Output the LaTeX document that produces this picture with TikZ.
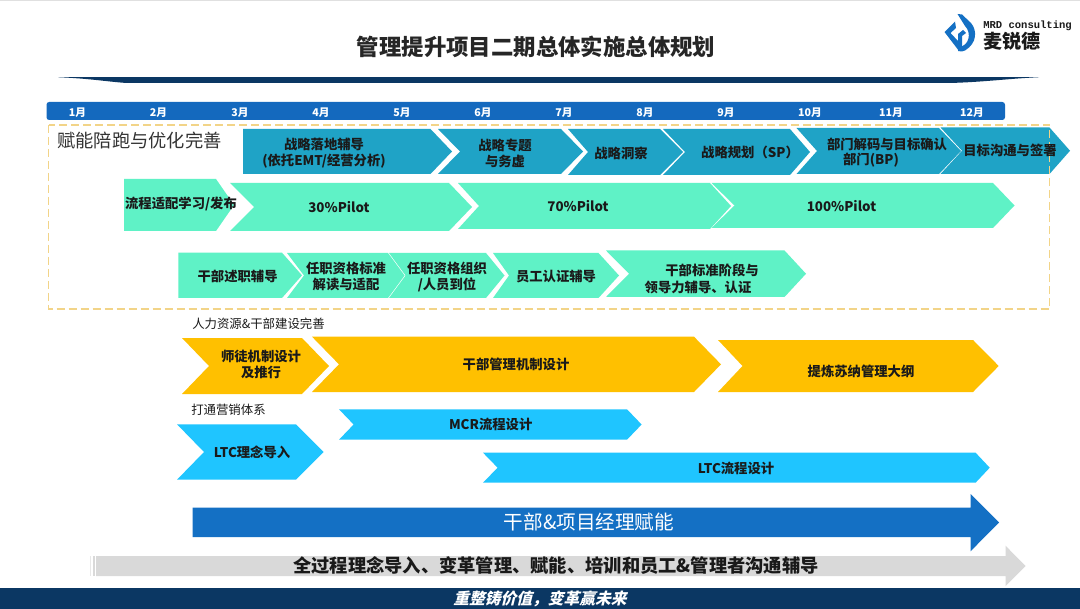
\documentclass[tikz,border=0pt]{standalone}
\usepackage{fontspec}
\setmainfont{Noto Sans CJK SC}
\newfontfamily\slantcjk[FakeSlant=0.25,BoldFeatures={FakeSlant=0.25}]{Noto Sans CJK SC}
\newfontfamily\logomono{Liberation Mono}
\definecolor{navy}{HTML}{0B3763}
\definecolor{barblue}{HTML}{1469BE}
\definecolor{teal}{HTML}{1FA3C6}
\definecolor{mint}{HTML}{5FF2C6}
\definecolor{amber}{HTML}{FFC000}
\definecolor{sky}{HTML}{1FC5FF}
\definecolor{bigblue}{HTML}{1470C4}
\definecolor{lightgrey}{HTML}{D9D9D9}
\definecolor{dashgold}{HTML}{F2D488}
\definecolor{ink}{HTML}{1A1A1A}
\tikzset{
  lbl/.style={font=\fontsize{10pt}{12pt}\selectfont\bfseries,text=ink,inner sep=0pt,align=center},
  month/.style={font=\fontsize{8pt}{9pt}\selectfont\bfseries,text=white,inner sep=0pt},
  note/.style={font=\fontsize{9.3pt}{11pt}\selectfont,text=ink,inner sep=0pt,anchor=west},
}
% colour, left x, notch x, shoulder x, tip x, top y, bottom y
\newcommand{\chevshape}[7]{%
  \pgfmathsetmacro{\chevmid}{(#6+#7)/2}%
  \fill[#1] (#2,#6) -- (#4,#6) -- (#5,\chevmid) -- (#4,#7) -- (#2,#7) -- (#3,\chevmid) -- cycle;}
\begin{document}
\begin{tikzpicture}[x=0.75pt,y=-0.75pt]
\useasboundingbox (0,0) rectangle (1080,609);
\fill[white] (0,0) rectangle (1080,609);
\fill[black!12] (0,0) rectangle (1080,1.2);

% title and swoosh
\node[lbl,font=\fontsize{16.8pt}{20pt}\selectfont\bfseries,text=black!85] (title) at (536,47) {管理提升项目二期总体实施总体规划};
\fill[navy] (58,77.2) .. controls (90,78.5) and (110,82) .. (127,83) -- (950,83) .. controls (985,82) and (1010,78.5) .. (1039,77.2) -- cycle;

% logo
\fill[bigblue] (957.5,14) -- (962,14.5) -- (971,23) .. controls (977,30) and (977.5,43) .. (965,50.5) .. controls (963,51.5) and (961,52) .. (958,51) -- (959,47) .. controls (969,46) and (972,33) .. (965,26) -- cycle;
\fill[bigblue] (944.5,32) -- (955,21.5) -- (956,28) -- (950.5,33) -- (958,41) -- (958,34) -- (963,30) -- (966,33) -- (962,36) -- (962,50) -- (959,51) -- cycle;
\node[inner sep=0pt,anchor=west,font=\fontsize{7.9pt}{9pt}\logomono\bfseries,text=ink] (logoen) at (983,26.3) {MRD consulting};
\node[inner sep=0pt,anchor=west,font=\fontsize{14.3pt}{16pt}\selectfont\bfseries,text=ink] (logocn) at (983.5,41.5) {麦锐德};

% months
\fill[barblue,rounded corners=2pt] (46.5,102) rectangle (1005,120);
\foreach \mx/\mt/\mn in {77.5/1月/ma,158.5/2月/mb,240/3月/mc,321/4月/md,402/5月/me,483/6月/mf,564/7月/mg,645/8月/mh,726/9月/mi,810/10月/mj,891/11月/mk,972/12月/ml}
  \node[month] (\mn) at (\mx,112.5) {\mt};

% row 1
\chevshape{teal}{243}{243}{430.5}{452}{129}{174}
\chevshape{teal}{438}{460}{561}{583}{129}{174}
\chevshape{teal}{568}{588}{660}{683}{129}{175}
\chevshape{teal}{663}{685}{790}{810}{129}{175}
\chevshape{teal}{796.5}{817}{939}{961}{128}{174}
\chevshape{teal}{940.5}{962}{1049.5}{1070}{127.5}{174}
% row 2
\chevshape{mint}{124}{124}{216}{234}{179}{231}
\chevshape{mint}{230}{254}{449}{472}{183}{231}
\chevshape{mint}{458}{479}{710}{731}{183}{229}
\chevshape{mint}{711.5}{734.5}{993}{1014.5}{183}{228}
% row 3
\chevshape{mint}{178.4}{178.4}{282}{302}{252.7}{298}
\chevshape{mint}{287}{304}{388}{404.6}{253}{298}
\chevshape{mint}{389}{405.6}{486}{504.5}{253}{298}
\chevshape{mint}{493}{509}{598.5}{619}{253}{298}
\chevshape{mint}{606}{629}{784.5}{806}{250.5}{297}

% dashed frame
\draw[dashgold,line width=0.9pt,dash pattern=on 6pt off 3pt] (48.5,125) rectangle (1049.6,309);
\node[note,font=\fontsize{13.7pt}{16pt}\selectfont,text=black!80] (head1) at (57,140.5) {赋能陪跑与优化完善};

% row 1 text
\node[lbl] (t1) at (324,153.5) {战略落地辅导\\(依托EMT/经营分析)};
\node[lbl] (t2) at (505,153) {战略专题\\与务虚};
\node[lbl] (t3) at (621,153) {战略洞察};
\node[lbl] (t4) at (750,152) {战略规划（SP）};
\node[lbl] (t5a) at (887,144) {部门解码与目标确认};
\node[lbl] (t5b) at (871,160.5) {部门(BP)};
\node[lbl] (t6) at (1010,150) {目标沟通与签署};
% row 2 text
\node[lbl] (p0) at (181,204) {流程适配学习/发布};
\node[lbl] (p1) at (339,207.5) {30\%Pilot};
\node[lbl] (p2) at (578,206.5) {70\%Pilot};
\node[lbl] (p3) at (841.5,206) {100\%Pilot};
% row 3 text
\node[lbl] (r1) at (237.6,276) {干部述职辅导};
\node[lbl] (r2) at (346,276.5) {任职资格标准\\解读与适配};
\node[lbl] (r3) at (447,276.5) {任职资格组织\\/人员到位};
\node[lbl] (r4) at (556,276) {员工认证辅导};
\node[lbl] (r5a) at (712,270.5) {干部标准阶段与};
\node[lbl] (r5b) at (698,287) {领导力辅导、认证};

% HR
\node[note] (head2) at (192,323.5) {人力资源\&干部建设完善};
\chevshape{amber}{182}{209}{302}{329}{338}{394}
\chevshape{amber}{312}{339}{694}{721}{336.7}{392}
\chevshape{amber}{718}{742.5}{973}{998.7}{340}{392}
\node[lbl] (h1) at (261,364.5) {师徒机制设计\\及推行};
\node[lbl] (h2) at (516,364) {干部管理机制设计};
\node[lbl] (h3) at (861,371) {提炼苏纳管理大纲};

% marketing
\node[note] (head3) at (191,410) {打通营销体系};
\chevshape{sky}{177}{204}{296}{323.7}{424.3}{479.7}
\chevshape{sky}{339}{353.6}{627}{641.6}{409.3}{439.7}
\chevshape{sky}{483}{497.6}{975.6}{989.7}{452.7}{482.7}
\node[lbl] (s1) at (252,452) {LTC理念导入};
\node[lbl] (s2) at (490.7,424) {MCR流程设计};
\node[lbl] (s3) at (736,468) {LTC流程设计};

% big blue arrow
\fill[bigblue] (192.5,507.7) -- (970.5,507.7) -- (970.5,494) -- (999,522.5) -- (970.5,551.3) -- (970.5,537) -- (192.5,537) -- cycle;
\node[inner sep=0pt,font=\fontsize{14.7pt}{18pt}\selectfont,text=white] (big) at (589,522) {干部\&项目经理赋能};

% grey arrow
\fill[lightgrey] (96,556) -- (1005.5,556) -- (1005.5,545.7) -- (1025.5,566) -- (1005.5,586) -- (1005.5,576) -- (96,576) -- cycle;
\fill[lightgrey] (92.7,556) rectangle (95,576);
\fill[lightgrey!60] (89.5,556) rectangle (91,576);
\node[lbl,font=\fontsize{13.7pt}{16pt}\selectfont\bfseries,text=black!90] (grey) at (556,566) {全过程理念导入、变革管理、赋能、培训和员工\&管理者沟通辅导};

% footer
\fill[navy] (0,588.3) rectangle (1080,609);
\node[inner sep=0pt,font=\fontsize{11.8pt}{14pt}\slantcjk\bfseries,text=white] (foot) at (540,598.5) {重整铸价值，变革赢未来};
\end{tikzpicture}
\end{document}
